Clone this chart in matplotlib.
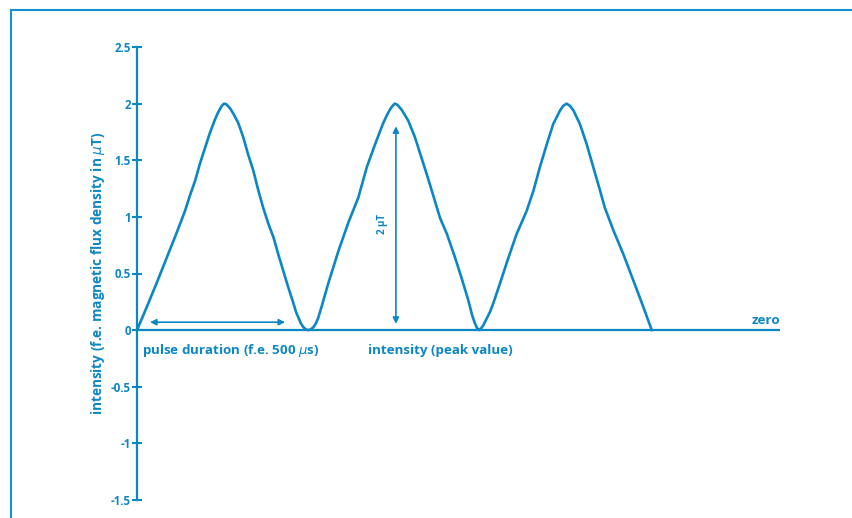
import matplotlib
matplotlib.use("Agg")
import matplotlib.pyplot as plt
from matplotlib.lines import Line2D

# ---- data (time in µs, intensity in µT) ----
time_us = [0, 28, 58, 87, 116, 140, 155, 170, 184, 199, 213, 228, 236, 243, 249, 255,
           261, 267, 274, 282, 296, 311, 325, 340, 355, 369, 384, 399, 413, 428, 442, 457, 465,
           472, 479, 486, 494, 501, 508, 516, 523, 530, 540,
           559, 589, 618, 647, 672, 696, 720, 732, 740, 747, 754,
           761, 767, 774, 793, 813, 832, 852, 871, 886, 906, 930, 949, 969,
           980, 988, 994, 1000, 1006, 1013, 1022, 1032, 1042,
           1061, 1086, 1110, 1139, 1159, 1178, 1198, 1217, 1237, 1246, 1256,
           1266, 1276, 1295, 1315, 1334, 1354, 1368, 1393, 1422, 1451, 1481, 1505]
intensity_uT = [0, 0.20, 0.42, 0.64, 0.86, 1.05, 1.19, 1.32, 1.47, 1.61, 1.74, 1.86, 1.915, 1.955, 1.985, 2.0,
                1.995, 1.975, 1.95, 1.91, 1.83, 1.70, 1.55, 1.41, 1.23, 1.08, 0.94, 0.82, 0.67, 0.52, 0.38, 0.24, 0.16,
                0.11, 0.06, 0.027, 0.007, 0, 0.007, 0.027, 0.06, 0.11, 0.21,
                0.41, 0.70, 0.95, 1.17, 1.44, 1.64, 1.83, 1.905, 1.95, 1.98, 2.0,
                1.99, 1.97, 1.945, 1.85, 1.70, 1.52, 1.33, 1.14, 0.99, 0.85, 0.64, 0.46, 0.26,
                0.13, 0.06, 0.02, 0, 0.015, 0.045, 0.10, 0.16, 0.24,
                0.41, 0.64, 0.85, 1.05, 1.23, 1.44, 1.64, 1.82, 1.94, 1.98, 2.0,
                1.98, 1.94, 1.82, 1.64, 1.44, 1.23, 1.08, 0.88, 0.67, 0.44, 0.20, 0]
x_max = 1880
y_ticks = [-1.5, -1, -0.5, 0, 0.5, 1, 1.5, 2, 2.5]
y_tick_labels = ["-1.5", "-1", "-0.5", "0", "0.5", "1", "1.5", "2", "2.5"]
ylabel = r"intensity (f.e. magnetic flux density in $\mu$T)"
pulse_label = r"pulse duration (f.e. 500 $\mu$s)"
peak_label = "intensity (peak value)"
zero_label = "zero"
amp_label = "2 µT"
pulse_arrow = (38, 433, 0.07)
peak_arrow = (757, 0.055, 1.80)

C = "#0b87c3"
plt.rcParams['font.family'] = ['Open Sans', 'DejaVu Sans']
plt.rcParams['mathtext.fontset'] = 'dejavusans'

fig = plt.figure(figsize=(8.52, 5.18), dpi=100)
W, H = 852, 518
ax = fig.add_axes([137 / W, (H - 500) / H, (780 - 137) / W, 453 / H])
ax.set_xlim(0, x_max)
ax.set_ylim(-1.5, 2.5)

for s in ['top', 'right', 'bottom']:
    ax.spines[s].set_visible(False)
ax.spines['left'].set_color(C)
ax.spines['left'].set_linewidth(1.6)

ax.set_xticks([])
ax.set_yticks(y_ticks)
ax.set_yticklabels(y_tick_labels)
ax.tick_params(axis='y', direction='inout', length=7, width=1.5, color=C,
               labelcolor=C, labelsize=8.3, pad=1)
for t in ax.get_yticklabels():
    t.set_fontweight('bold')

FS = 9.6
ax.text(-0.0614, 0.501, ylabel, color=C, fontsize=9.8, fontweight='bold', rotation=90,
        ha='center', va='center', transform=ax.transAxes)

# zero line
ax.plot([0, x_max], [0, 0], color=C, lw=1.6, solid_capstyle='butt', clip_on=False)
# pulse curve
ax.plot(time_us, intensity_uT, color=C, lw=1.9, solid_joinstyle='round', clip_on=False)

# arrows
ax.annotate("", xy=(pulse_arrow[0], pulse_arrow[2]), xytext=(pulse_arrow[1], pulse_arrow[2]),
            arrowprops=dict(arrowstyle='<|-|>', color=C, lw=1.2, mutation_scale=9,
                            shrinkA=0, shrinkB=0))
ax.annotate("", xy=(peak_arrow[0], peak_arrow[1]), xytext=(peak_arrow[0], peak_arrow[2]),
            arrowprops=dict(arrowstyle='<|-|>', color=C, lw=1.2, mutation_scale=9,
                            shrinkA=0, shrinkB=0))

ax.text(15, -0.18, pulse_label, color=C, fontsize=FS, fontweight='bold', ha='left', va='center')
ax.text(675, -0.18, peak_label, color=C, fontsize=FS, fontweight='bold', ha='left', va='center')
ax.text(x_max, 0.03, zero_label, color=C, fontsize=FS, fontweight='bold', ha='right', va='bottom')
ax.text(719, 0.94, amp_label, color=C, fontsize=7, fontweight='bold', rotation=90,
        ha='center', va='center')

# page frame (left and top edges)
fig.add_artist(Line2D([11 / W, 11 / W], [0, 1 - 10 / H], color="#1590d0", lw=1.5,
                      transform=fig.transFigure))
fig.add_artist(Line2D([11 / W, 1], [1 - 10 / H, 1 - 10 / H], color="#1590d0", lw=1.5,
                      transform=fig.transFigure))

fig.savefig("out.png", dpi=100)
